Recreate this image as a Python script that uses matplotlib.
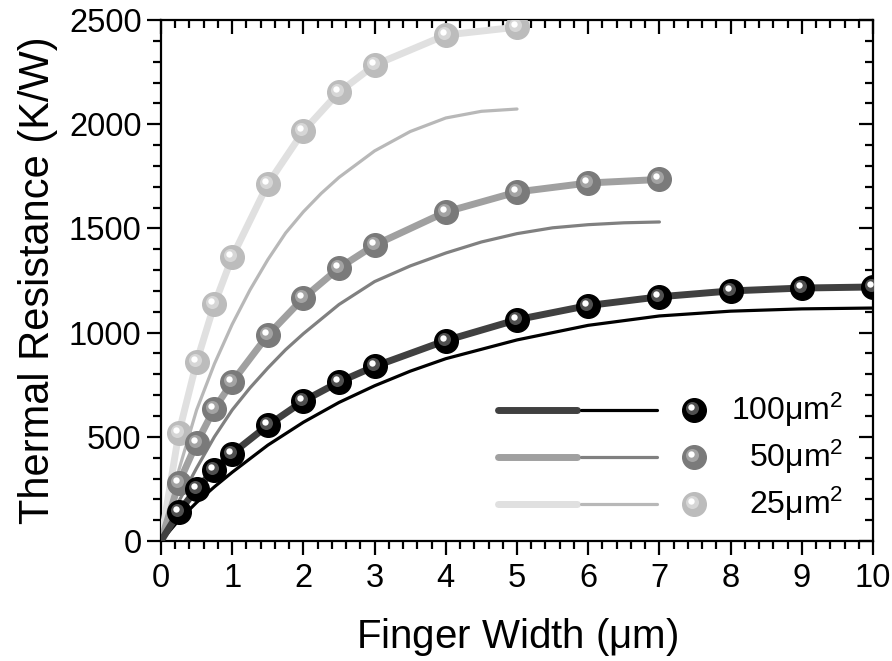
import matplotlib
matplotlib.use('Agg')
import matplotlib.pyplot as plt
from matplotlib.transforms import offset_copy
from matplotlib.ticker import MultipleLocator

plt.rcParams['font.family'] = ['Liberation Sans', 'DejaVu Sans']
plt.rcParams['mathtext.fontset'] = 'custom'
plt.rcParams['mathtext.rm'] = 'Liberation Sans'
plt.rcParams['mathtext.it'] = 'Liberation Sans:italic'

#### data ####
x100 = [0, 0.25, 0.5, 0.75, 1, 1.5, 2, 2.5, 3, 4, 5, 6, 7, 8, 9, 10]
r100 = [0, 139, 250, 341, 420, 555, 672, 763, 838, 962, 1062, 1130, 1172, 1200, 1214, 1219]
x50 = [0, 0.25, 0.5, 0.75, 1, 1.5, 2, 2.5, 3, 4, 5, 6, 7]
r50 = [0, 278, 470, 635, 763, 988, 1166, 1310, 1420, 1579, 1675, 1718, 1735]
x25 = [0, 0.25, 0.5, 0.75, 1, 1.5, 2, 2.5, 3, 4, 5]
r25 = [0, 518, 859, 1137, 1363, 1713, 1967, 2154, 2284, 2428, 2466]

# thin (model) curves
xt100 = [0, 0.25, 0.5, 0.75, 1, 1.5, 2, 2.5, 3, 3.5, 4, 5, 6, 7, 8, 9, 10]
rt100 = [0, 100, 185, 260, 330, 460, 570, 665, 745, 815, 875, 965, 1035, 1080, 1103, 1114, 1118]
xt50 = [0, 0.25, 0.5, 0.75, 1, 1.25, 1.5, 1.75, 2, 2.5, 3, 3.5, 4, 4.5, 5, 5.5, 6, 6.5, 7]
rt50 = [0, 190, 350, 500, 629, 735, 830, 918, 995, 1135, 1245, 1320, 1382, 1435, 1475, 1503, 1518, 1527, 1531]
xt25 = [0, 0.25, 0.5, 0.75, 1, 1.25, 1.5, 1.75, 2, 2.25, 2.5, 3, 3.5, 4, 4.5, 5]
rt25 = [0, 340, 629, 850, 1040, 1205, 1350, 1478, 1580, 1668, 1745, 1872, 1965, 2030, 2062, 2073]

labels = ['100', '50', '25']
thick_colors = ['#404040', '#a0a0a0', '#e0e0e0']
thin_colors = ['#000000', '#808080', '#b8b8b8']
ball_colors = ['#000000', '#7a7a7a', '#bcbcbc']
mid_colors = ['#5a5a5a', '#a8a8a8', '#dadada']


def draw_balls(ax, x, y, base, mid, size=17, zorder=5, transform=None):
    # fake 3D sphere: base disk, lighter inner disk, white highlight
    if transform is None:
        transform = ax.transData
    ax.plot(x, y, 'o', ms=size, color=base, mec=base, transform=transform, zorder=zorder)
    tr_mid = offset_copy(transform, fig=ax.figure, x=-2, y=2, units='dots')
    ax.plot(x, y, 'o', ms=size*0.55, color=mid, mec='none', alpha=0.9, transform=tr_mid, zorder=zorder+0.1)
    tr_hi = offset_copy(transform, fig=ax.figure, x=-3, y=3, units='dots')
    ax.plot(x, y, 'o', ms=size*0.27, color='white', mec='none', transform=tr_hi, zorder=zorder+0.2)


fig = plt.figure(figsize=(8.92, 6.61), dpi=100)
ax = fig.add_axes([0.1805, 0.1815, 0.7982, 0.7882])

series = [(x100, r100, xt100, rt100), (x50, r50, xt50, rt50), (x25, r25, xt25, rt25)]
for i, (xm, rm, xt, rt) in reversed(list(enumerate(series))):
    ax.plot(xt, rt, '-', color=thin_colors[i], lw=2.3, solid_capstyle='round', zorder=2)
    ax.plot(xm, rm, '-', color=thick_colors[i], lw=5, solid_capstyle='round', zorder=3)
    draw_balls(ax, xm[1:], rm[1:], ball_colors[i], mid_colors[i])

ax.set_xlim(0, 10)
ax.set_ylim(0, 2500)
ax.xaxis.set_major_locator(MultipleLocator(1))
ax.xaxis.set_minor_locator(MultipleLocator(0.2))
ax.yaxis.set_major_locator(MultipleLocator(500))
ax.yaxis.set_minor_locator(MultipleLocator(100))
for s in ax.spines.values():
    s.set_linewidth(1.6)
ax.tick_params(which='both', labelsize=23.5, width=1.6, top=True, right=True)
ax.tick_params(which='major', length=10)
ax.tick_params(which='minor', length=6)
ax.tick_params(axis='x', which='both', direction='out', pad=6)
ax.tick_params(axis='y', which='both', direction='out', pad=4)
# top / right ticks point inward
for t in ax.xaxis.get_major_ticks() + ax.xaxis.get_minor_ticks():
    t.tick2line.set_marker(3)
for t in ax.yaxis.get_major_ticks() + ax.yaxis.get_minor_ticks():
    t.tick2line.set_marker(0)

ax.set_xlabel(r'Finger Width ($\mathrm{\mu}$m)', fontsize=29, labelpad=16)
ax.set_ylabel('Thermal Resistance (K/W)', fontsize=30, labelpad=8)

#### hand-made legend ####
rows = [0.252, 0.162, 0.072]
for i, yy in enumerate(rows):
    ax.plot([0.474, 0.584], [yy, yy], transform=ax.transAxes, color=thick_colors[i], lw=5,
            solid_capstyle='round', zorder=6)
    ax.plot([0.590, 0.696], [yy, yy], transform=ax.transAxes, color=thin_colors[i], lw=2.3,
            solid_capstyle='round', zorder=6)
    draw_balls(ax, [0.748], [yy], ball_colors[i], mid_colors[i], zorder=6, transform=ax.transAxes)
    ax.text(0.958, yy, labels[i] + r'$\mathrm{\mu m}^2$', transform=ax.transAxes, fontsize=23,
            ha='right', va='center', zorder=7)

fig.savefig('out.png', dpi=100)
